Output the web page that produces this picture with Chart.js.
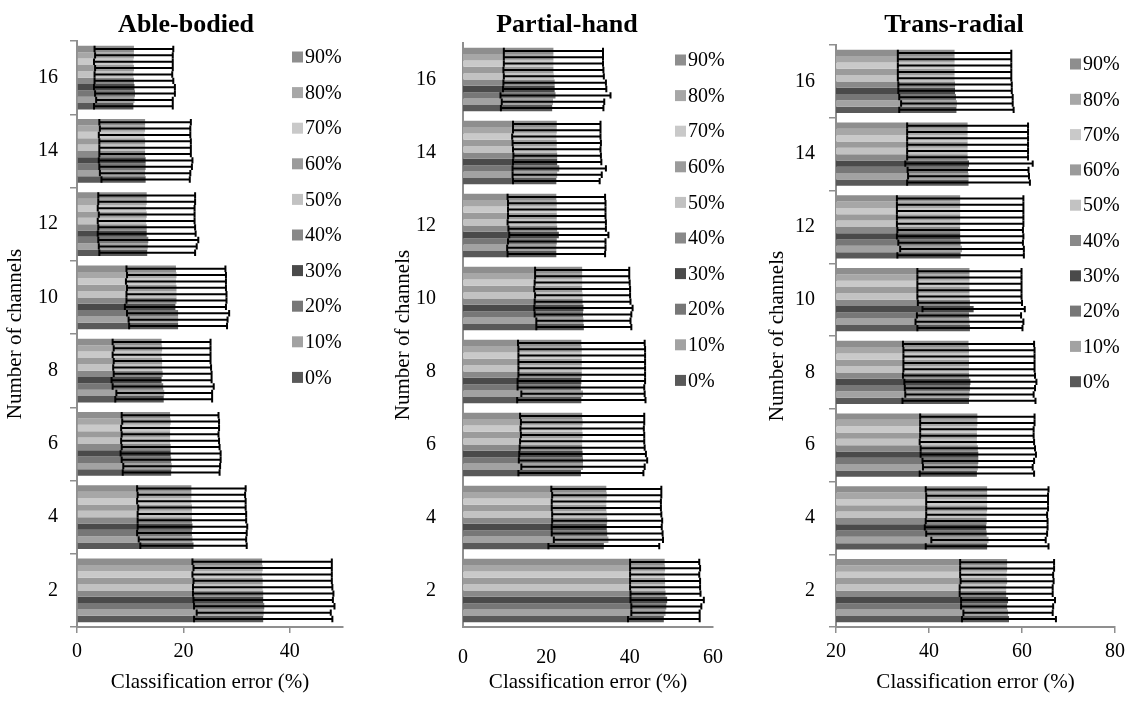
<!DOCTYPE html>
<html>
<head>
<meta charset="utf-8">
<script src="https://cdn.jsdelivr.net/npm/chart.js@4.4.0/dist/chart.umd.min.js"></script>
<style>
  body { margin: 0; background: #fff; }
  #wrap { position: relative; width: 1133px; height: 701px; }
  #wrap canvas { position: absolute; top: 0; }
</style>
</head>
<body>
<div id="wrap">
  <canvas id="able" width="385" height="701" style="left:0px"></canvas>
  <canvas id="partial" width="375" height="701" style="left:385px"></canvas>
  <canvas id="trans" width="373" height="701" style="left:760px"></canvas>
</div>
<script>
const channels = ["2", "4", "6", "8", "10", "12", "14", "16"];
const levels = ["0%", "10%", "20%", "30%", "40%", "50%", "60%", "70%", "80%", "90%"];
const levelColors = ["#595959", "#a2a2a2", "#777777", "#4a4a4a", "#898989",
                     "#c2c2c2", "#9b9b9b", "#c9c9c9", "#a7a7a7", "#8e8e8e"];

const ableTicks = [0, 20, 40];
const partialTicks = [0, 20, 40, 60];
const transTicks = [20, 40, 60, 80];

// rows: 0% .. 90%, columns: 2 .. 16 channels
const ableMean = [
  [35.0, 21.9, 17.7, 16.3, 19.0, 13.2, 12.9, 10.6],
  [35.1, 21.7, 17.8, 16.4, 19.0, 13.3, 12.8, 10.8],
  [35.2, 21.6, 17.7, 16.2, 19.0, 13.4, 12.9, 10.9],
  [35.0, 21.7, 17.6, 15.9, 18.5, 13.1, 12.9, 10.8],
  [35.0, 21.6, 17.6, 16.1, 18.7, 13.1, 12.8, 10.7],
  [34.9, 21.6, 17.5, 16.0, 18.7, 13.0, 12.8, 10.6],
  [34.9, 21.6, 17.5, 16.0, 18.7, 13.1, 12.8, 10.7],
  [34.8, 21.5, 17.5, 15.9, 18.6, 13.0, 12.7, 10.6],
  [34.9, 21.5, 17.6, 16.0, 18.7, 13.1, 12.8, 10.7],
  [34.8, 21.5, 17.5, 15.9, 18.6, 13.1, 12.8, 10.7]
];
const ableSd = [
  [13.0, 10.0, 9.1, 9.1, 9.2, 9.0, 8.3, 7.4],
  [12.6, 10.1, 9.1, 9.0, 9.3, 9.2, 8.5, 7.2],
  [13.2, 10.3, 9.3, 9.5, 9.6, 9.4, 8.7, 7.5],
  [13.1, 10.3, 9.4, 9.4, 9.5, 9.2, 8.8, 7.6],
  [13.2, 10.2, 9.2, 9.2, 9.4, 9.1, 8.6, 7.4],
  [13.1, 10.2, 9.2, 9.2, 9.4, 9.1, 8.6, 7.3],
  [13.0, 10.1, 9.1, 9.1, 9.3, 9.0, 8.6, 7.3],
  [13.1, 10.2, 9.2, 9.2, 9.4, 9.1, 8.6, 7.4],
  [13.0, 10.1, 9.1, 9.1, 9.3, 9.1, 8.5, 7.3],
  [13.1, 10.2, 9.1, 9.2, 9.3, 9.1, 8.6, 7.4]
];

const partialMean = [
  [48.2, 33.8, 28.3, 28.4, 29.0, 22.4, 22.4, 21.4],
  [48.6, 34.9, 28.8, 28.8, 28.9, 22.4, 22.6, 21.6],
  [48.8, 34.6, 28.8, 28.3, 28.8, 22.5, 23.1, 22.2],
  [49.0, 34.5, 28.7, 28.4, 28.9, 23.0, 22.6, 22.0],
  [48.6, 34.6, 28.6, 28.5, 28.7, 22.6, 22.6, 22.0],
  [48.5, 34.5, 28.6, 28.5, 28.7, 22.5, 22.5, 21.8],
  [48.5, 34.4, 28.7, 28.5, 28.6, 22.5, 22.5, 21.7],
  [48.4, 34.4, 28.6, 28.5, 28.6, 22.5, 22.4, 21.7],
  [48.5, 34.5, 28.7, 28.5, 28.6, 22.5, 22.5, 21.7],
  [48.4, 34.4, 28.6, 28.4, 28.6, 22.4, 22.5, 21.7]
];
const partialSd = [
  [8.6, 13.3, 15.0, 15.4, 11.4, 11.7, 10.4, 12.3],
  [8.2, 13.1, 14.8, 14.8, 11.3, 11.8, 10.7, 12.3],
  [8.4, 13.3, 15.4, 15.2, 11.6, 11.7, 11.2, 13.2],
  [8.8, 13.2, 15.2, 15.3, 11.8, 11.9, 10.6, 12.4],
  [8.4, 13.2, 15.0, 15.2, 11.5, 11.7, 10.5, 12.3],
  [8.4, 13.1, 14.9, 15.2, 11.4, 11.8, 10.5, 12.0],
  [8.4, 13.1, 14.8, 15.2, 11.5, 11.7, 10.6, 12.0],
  [8.3, 13.1, 14.8, 15.2, 11.4, 11.7, 10.6, 11.9],
  [8.4, 13.1, 14.8, 15.2, 11.3, 11.7, 10.5, 11.9],
  [8.3, 13.2, 14.9, 15.2, 11.3, 11.7, 10.5, 11.9]
];

const transMean = [
  [57.2, 52.5, 50.3, 48.6, 48.8, 46.8, 48.5, 45.9],
  [57.0, 52.8, 50.5, 48.7, 48.7, 47.1, 48.5, 46.0],
  [56.8, 52.4, 50.6, 48.8, 48.6, 46.8, 48.4, 45.8],
  [57.0, 52.3, 50.6, 48.9, 49.6, 46.7, 48.6, 45.6],
  [56.6, 52.4, 50.5, 48.6, 48.8, 46.7, 48.3, 45.6],
  [56.6, 52.4, 50.3, 48.6, 48.7, 46.7, 48.3, 45.5],
  [56.8, 52.5, 50.3, 48.6, 48.7, 46.7, 48.3, 45.5],
  [56.7, 52.5, 50.3, 48.6, 48.7, 46.7, 48.3, 45.5],
  [56.8, 52.5, 50.4, 48.6, 48.7, 46.7, 48.3, 45.5],
  [56.8, 52.5, 50.4, 48.5, 48.7, 46.7, 48.3, 45.5]
];
const transSd = [
  [10.1, 13.2, 12.3, 14.3, 11.3, 13.6, 13.2, 12.3],
  [9.6, 12.3, 11.8, 13.8, 11.6, 13.3, 13.0, 12.0],
  [9.9, 13.0, 12.0, 14.0, 11.2, 13.4, 13.0, 12.2],
  [10.1, 13.2, 12.4, 14.2, 11.0, 13.6, 13.7, 12.2],
  [10.0, 13.1, 12.3, 14.2, 11.2, 13.5, 13.0, 12.2],
  [10.0, 13.0, 12.3, 14.1, 11.2, 13.6, 13.0, 12.2],
  [10.0, 13.1, 12.2, 14.1, 11.2, 13.6, 13.0, 12.2],
  [10.0, 13.1, 12.2, 14.1, 11.2, 13.6, 13.0, 12.2],
  [10.1, 13.1, 12.3, 14.1, 11.2, 13.6, 13.0, 12.2],
  [10.1, 13.2, 12.3, 14.1, 11.2, 13.6, 13.0, 12.2]
];

const serif = "'Liberation Serif', 'Times New Roman', serif";
const axisGrey = "#8f8f8f";

// error bars, panel title and legend
const extras = {
  id: "extras",
  afterDatasetsDraw(chart) {
    const ctx = chart.ctx;
    const xs = chart.scales.x;
    ctx.save();
    ctx.strokeStyle = "#000";
    ctx.lineWidth = 2;
    chart.data.datasets.forEach((ds, i) => {
      const meta = chart.getDatasetMeta(i);
      meta.data.forEach((bar, j) => {
        const v = ds.data[j], e = ds.sd[j];
        const x1 = xs.getPixelForValue(v - e);
        const x2 = xs.getPixelForValue(v + e);
        const h = bar.height / 2;
        ctx.beginPath();
        ctx.moveTo(x1, bar.y); ctx.lineTo(x2, bar.y);
        ctx.moveTo(x1, bar.y - h); ctx.lineTo(x1, bar.y + h);
        ctx.moveTo(x2, bar.y - h); ctx.lineTo(x2, bar.y + h);
        ctx.stroke();
      });
    });
    ctx.restore();
  },
  afterDraw(chart, args, opts) {
    const ctx = chart.ctx;
    ctx.save();
    ctx.fillStyle = "#000";
    ctx.font = "bold 26px " + serif;
    ctx.textAlign = "center";
    ctx.textBaseline = "alphabetic";
    ctx.fillText(opts.title, opts.titleX, opts.titleY);

    ctx.font = "20px " + serif;
    ctx.textAlign = "left";
    ctx.textBaseline = "middle";
    for (let k = levels.length - 1; k >= 0; k--) {
      const y = opts.legendY + (levels.length - 1 - k) * opts.legendStep;
      ctx.fillStyle = levelColors[k];
      ctx.fillRect(opts.legendX, y - 5.5, 11, 11);
      ctx.fillStyle = "#000";
      ctx.fillText(levels[k], opts.legendX + 13, y + 1);
    }
    ctx.restore();
  }
};

function makeChart(id, mean, sd, ticks, min, max, L) {
  // dataset 0 sits at the top of each group, so feed 90% first
  const datasets = [];
  for (let k = levels.length - 1; k >= 0; k--) {
    datasets.push({
      label: levels[k],
      data: mean[k],
      sd: sd[k],
      backgroundColor: levelColors[k],
      borderWidth: 0,
      categoryPercentage: 0.87,
      barPercentage: 1.0
    });
  }
  const canvas = document.getElementById(id);
  return new Chart(canvas, {
    type: "bar",
    data: { labels: channels, datasets: datasets },
    options: {
      indexAxis: "y",
      responsive: false,
      animation: false,
      layout: { padding: { left: 0, right: canvas.width - L.right, top: L.top, bottom: 0 } },
      plugins: {
        legend: { display: false },
        tooltip: { enabled: false },
        extras: {
          title: L.title, titleX: L.titleX, titleY: 32,
          legendX: L.legendX, legendY: L.legendY, legendStep: L.legendStep
        }
      },
      scales: {
        y: {
          reverse: true,
          afterFit: s => { s.width = L.yWidth; },
          grid: { display: L.ticks, drawOnChartArea: false, tickLength: 7, color: axisGrey, lineWidth: 1.5 },
          border: { display: true, color: axisGrey, width: 2 },
          ticks: { color: "#000", font: { family: serif, size: 20 }, padding: L.yPad },
          title: {
            display: true, text: "Number of channels", color: "#000",
            font: { family: serif, size: 21 }, padding: { top: L.yTitlePad, bottom: 0 }
          }
        },
        x: {
          type: "linear",
          min: min,
          max: max,
          afterFit: s => { s.height = 701 - 627; },
          afterBuildTicks: s => { s.ticks = ticks.map(v => ({ value: v })); },
          grid: { display: L.ticks, drawOnChartArea: false, tickLength: 6, color: axisGrey, lineWidth: 1.5 },
          border: { display: true, color: axisGrey, width: 2 },
          ticks: { color: "#000", font: { family: serif, size: 20 }, padding: L.ticks ? 7 : 13 },
          title: {
            display: true, text: "Classification error (%)", color: "#000",
            font: { family: serif, size: 21 }, padding: { top: 0, bottom: 6 }
          }
        }
      }
    },
    plugins: [extras]
  });
}

makeChart("able", ableMean, ableSd, ableTicks, 0, 50, {
  title: "Able-bodied", titleX: 186, right: 343, top: 41, yWidth: 77, yPad: 12, yTitlePad: 3,
  ticks: true, legendX: 292, legendY: 57, legendStep: 35.6
});
makeChart("partial", partialMean, partialSd, partialTicks, 0, 60, {
  title: "Partial-hand", titleX: 182, right: 328, top: 43, yWidth: 78, yPad: 20, yTitlePad: 6,
  ticks: false, legendX: 290, legendY: 60, legendStep: 35.6
});
makeChart("trans", transMean, transSd, transTicks, 20, 80, {
  title: "Trans-radial", titleX: 194, right: 355, top: 45, yWidth: 76, yPad: 14, yTitlePad: 5,
  ticks: true, legendX: 310, legendY: 64, legendStep: 35.3
});
</script>
</body>
</html>
